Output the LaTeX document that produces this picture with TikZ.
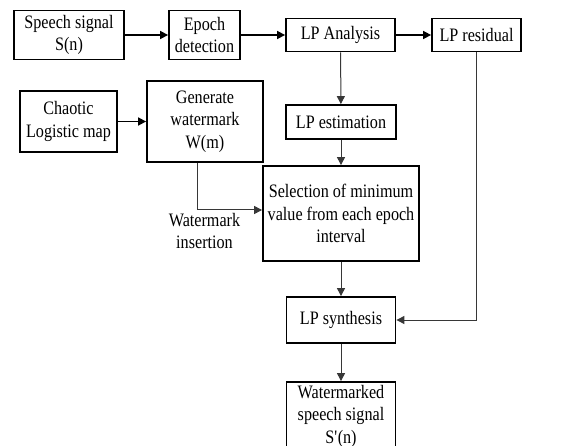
\documentclass[tikz,border=0pt]{standalone}
\usepackage{fontspec}
\setmainfont{Liberation Serif}[FakeStretch=0.85]
\usetikzlibrary{positioning, calc, arrows.meta}
\definecolor{lineGray}{RGB}{55, 55, 55}

\begin{document}
\begin{tikzpicture}[x=1pt, y=-1pt,
          box/.style={draw=black, line width=1.8pt, fill=white,
                      inner sep=0pt, align=center,
                      font=\fontsize{19}{22.5}\selectfont},
          arr/.style={-{Triangle[length=8pt, width=8pt]}, black, line width=1.6pt},
          tarr/.style={-{Triangle[length=8pt, width=8pt]}, lineGray, line width=1pt},
          lbl/.style={align=center, inner sep=0pt, font=\fontsize{19}{22.5}\selectfont}
        ]
        \path[use as bounding box, clip] (0,0) rectangle (567,446);

        % top row
        \node[box, minimum width=110pt, minimum height=49pt] (sig)   at (69,35)    {Speech signal\\S(n)};
        \node[box, minimum width=71pt,  minimum height=49pt] (epoch) at (204.5,35) {Epoch\\detection};
        \node[box, minimum width=109pt, minimum height=33pt] (lpa)   at (340.5,35) {LP Analysis};
        \node[box, minimum width=89pt,  minimum height=33pt] (res)   at (476.5,35) {LP residual};

        % watermark generation
        \node[box, minimum width=97pt,  minimum height=61pt] (chaos) at (68.5,121.5) {Chaotic\\Logistic map};
        \node[box, minimum width=116pt, minimum height=81pt] (gen)   at (205,121.5)  {Generate\\watermark\\W(m)};

        % middle column
        \node[box, minimum width=110pt, minimum height=34pt] (lpe) at (341,122)   {LP estimation};
        \node[box, minimum width=156pt, minimum height=95pt] (sel) at (341,213.5) {Selection of minimum\\value from each epoch\\interval};
        \node[box, minimum width=109pt, minimum height=46pt] (syn) at (341,320)   {LP synthesis};
        \node[box, minimum width=109pt, minimum height=68pt] (wm)  at (341,416)   {Watermarked\\speech signal\\S\textquotesingle(n)};

        \node[lbl] (ins) at (204.5,231) {Watermark\\insertion};

        \draw[arr] (sig) -- (epoch);
        \draw[arr] (epoch) -- (lpa);
        \draw[arr] (lpa) -- (res);
        \draw[arr] (chaos) -- (gen);

        \draw[tarr] (lpa) -- (lpe);
        \draw[tarr] (lpe) -- (sel);
        \draw[tarr] (sel) -- (syn);
        \draw[tarr] (syn) -- (wm);
        % watermark path drops from the generator into the selection box
        \draw[tarr] ([xshift=-8pt]gen.south) |- ([yshift=3.5pt]sel.west);
        \draw[tarr] (res) |- (syn);
      \end{tikzpicture}
\end{document}
